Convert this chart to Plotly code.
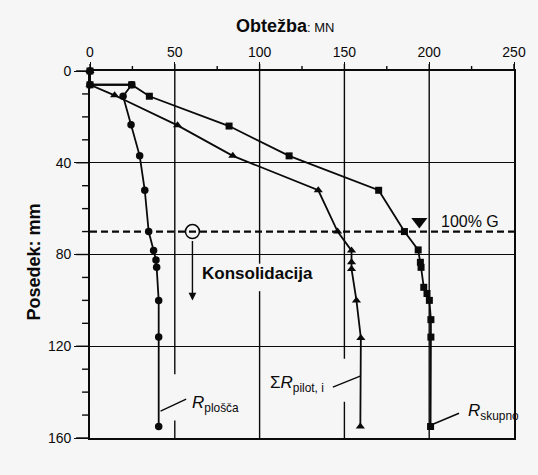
import plotly.graph_objects as go

# Load (MN) vs. settlement (mm) for a piled raft
settle_total = [0, 6, 6, 11, 24, 37, 52, 70, 78, 83.4, 85.6, 94.3, 97, 100, 108.4, 116, 155]
load_total = [0, 0, 24.6, 35, 82, 117.4, 170.2, 185.4, 193.5, 194.8, 195.2, 196.8, 198.7, 200.1, 201, 201, 200.8]

settle_piles = [0, 6, 10.6, 23.7, 37, 52, 70, 78.3, 83.4, 86.3, 100, 116.4, 155]
load_piles = [0, 0, 14.5, 51.6, 84.2, 134.6, 146, 154.2, 154.2, 154.2, 157.1, 159.7, 159.4]

settle_raft = [0, 6, 6, 11, 23.4, 37, 52, 70, 78.3, 82.4, 85.6, 100, 116, 155]
load_raft = [0, 0, 24.6, 19.5, 24.2, 29.3, 32.3, 34.6, 37.5, 38.9, 39.3, 40.5, 40.5, 40.5]

x_range = [0, 250]
y_range = [160, 0]
x_major_ticks = [0, 50, 100, 150, 200, 250]
y_major_ticks = [0, 40, 80, 120, 160]
x_minor_ticks = [25, 75, 125, 175, 225]
y_minor_ticks = [10, 20, 30, 50, 60, 70, 90, 100, 110, 130, 140, 150]

design_settlement = 70      # settlement at 100 % working load G
consolidation_start = 60.4  # load where consolidation begins
consolidation_end = 100     # settlement reached after consolidation

FONT = "Liberation Sans, Arial, Helvetica, sans-serif"
INK = "#0a0a0a"
BG = "#f6f6f6"

W, H = 538, 475
MARGIN = dict(l=90, r=20, t=71, b=37)
PLOT_W = W - MARGIN["l"] - MARGIN["r"]
PLOT_H = H - MARGIN["t"] - MARGIN["b"]

fig = go.Figure()

line_style = dict(color=INK, width=1.8)
fig.add_trace(go.Scatter(x=load_raft, y=settle_raft, mode="lines+markers",
                         line=line_style, marker=dict(symbol="circle", size=7.5, color=INK),
                         showlegend=False, cliponaxis=False))
fig.add_trace(go.Scatter(x=load_piles, y=settle_piles, mode="lines+markers",
                         line=line_style, marker=dict(symbol="triangle-up", size=8, color=INK),
                         showlegend=False, cliponaxis=False))
fig.add_trace(go.Scatter(x=load_total, y=settle_total, mode="lines+markers",
                         line=line_style, marker=dict(symbol="square", size=7, color=INK),
                         showlegend=False, cliponaxis=False))

# open circle marking the start of consolidation
fig.add_trace(go.Scatter(x=[consolidation_start], y=[design_settlement], mode="markers",
                         marker=dict(symbol="circle-open", size=14, color=INK, line=dict(width=1.5, color=INK)),
                         showlegend=False))
# 100 % G marker
fig.add_trace(go.Scatter(x=[194.2], y=[65.6], mode="markers",
                         marker=dict(symbol="triangle-down", size=14, color=INK),
                         showlegend=False))

shapes = []
# vertical grid lines, interrupted where labels sit
v_grid = {50: [(0, 132.2), (152.4, 160)],
          100: [(0, 84), (96, 160)],
          150: [(0, 125.5), (144.2, 160)],
          200: [(0, 160)]}
for xv, segs in v_grid.items():
    for y0, y1 in segs:
        shapes.append(dict(type="line", xref="x", yref="y", x0=xv, x1=xv, y0=y0, y1=y1,
                           line=dict(color=INK, width=1.4), layer="below"))


def x_frac(v):
    return (v - x_range[0]) / (x_range[1] - x_range[0])


def y_frac(v):
    return (v - y_range[0]) / (y_range[1] - y_range[0])


# tick marks outside the frame, drawn in paper coordinates
def y_tick(v, length):
    yp = y_frac(v)
    return dict(type="line", xref="paper", yref="paper", x0=-length / PLOT_W, x1=0,
                y0=yp, y1=yp, line=dict(color=INK, width=1.4), layer="above")


def x_tick(v, length):
    xp = x_frac(v)
    return dict(type="line", xref="paper", yref="paper", x0=xp, x1=xp,
                y0=1, y1=1 + length / PLOT_H, line=dict(color=INK, width=1.4), layer="above")


shapes += [y_tick(v, 14) for v in y_major_ticks]
shapes += [y_tick(v, 8) for v in y_minor_ticks]
shapes += [x_tick(v, 7) for v in x_major_ticks]
shapes += [x_tick(v, 5) for v in x_minor_ticks]

# dashed line of the design settlement
shapes.append(dict(type="line", xref="x", yref="y", x0=0, x1=250,
                   y0=design_settlement, y1=design_settlement,
                   line=dict(color=INK, width=2.2, dash="7px,4px")))
# leader lines for the curve labels
for x0, y0, x1, y1 in [(41.6, 148.3, 56.7, 143.1),
                       (143.2, 137.8, 159.3, 133.0),
                       (202.5, 153.9, 217.6, 149.2)]:
    shapes.append(dict(type="line", xref="x", yref="y", x0=x0, y0=y0, x1=x1, y1=y1,
                       line=dict(color=INK, width=1.4)))

annotations = [
    dict(x=consolidation_start, y=consolidation_end, ax=consolidation_start, ay=73.5,
         xref="x", yref="y", axref="x", ayref="y", text="", showarrow=True,
         arrowhead=2, arrowsize=1.1, arrowwidth=1.4, arrowcolor=INK),
    dict(x=64.6, y=88.4, xref="x", yref="y", text="<b>Konsolidacija</b>", showarrow=False,
         xanchor="left", yanchor="middle", font=dict(family=FONT, size=17, color=INK)),
    dict(x=205.6, y=65.6, xref="x", yref="y", text="100% G", showarrow=False,
         xanchor="left", yanchor="middle", font=dict(family=FONT, size=16, color=INK)),
    dict(x=58.7, y=145, xref="x", yref="y", text="<i>R</i><sub>plošča</sub>", showarrow=False,
         xanchor="left", yanchor="middle", font=dict(family=FONT, size=17, color=INK)),
    dict(x=139, y=136.5, xref="x", yref="y", text="Σ<i>R</i><sub>pilot, i</sub>", showarrow=False,
         xanchor="right", yanchor="middle", font=dict(family=FONT, size=17, color=INK)),
    dict(x=221.6, y=148.5, xref="x", yref="y", text="<i>R</i><sub>skupno</sub>", showarrow=False,
         xanchor="left", yanchor="middle", font=dict(family=FONT, size=17, color=INK)),
    dict(x=0.46, y=1.0, xref="paper", yref="paper", yshift=45,
         text="<b>Obtežba</b><span style='font-size:13px'>: MN</span>", showarrow=False,
         xanchor="center", yanchor="middle", font=dict(family=FONT, size=18, color=INK)),
    dict(x=-0.133, y=0.48, xref="paper", yref="paper", text="<b>Posedek: mm</b>", textangle=-90,
         showarrow=False, xanchor="center", yanchor="middle",
         font=dict(family=FONT, size=18, color=INK)),
]

fig.update_layout(
    width=W, height=H,
    margin=MARGIN,
    paper_bgcolor=BG, plot_bgcolor=BG,
    shapes=shapes, annotations=annotations,
    font=dict(family=FONT, size=14, color=INK),
    xaxis=dict(side="top", range=x_range, tickmode="array", tickvals=x_major_ticks,
               showgrid=False, zeroline=False, showline=True, mirror=True,
               linecolor=INK, linewidth=1.7, ticks="outside", ticklen=7, tickwidth=1.4,
               tickcolor=INK, tickfont=dict(family=FONT, size=14, color=INK)),
    yaxis=dict(range=y_range, tickmode="array", tickvals=y_major_ticks,
               showgrid=True, gridcolor=INK, gridwidth=1.4, zeroline=False,
               showline=True, mirror=True, linecolor=INK, linewidth=1.7,
               ticks="outside", ticklen=14, tickwidth=1.4, tickcolor=INK,
               tickfont=dict(family=FONT, size=14, color=INK)),
)

fig.write_html("out.html")
